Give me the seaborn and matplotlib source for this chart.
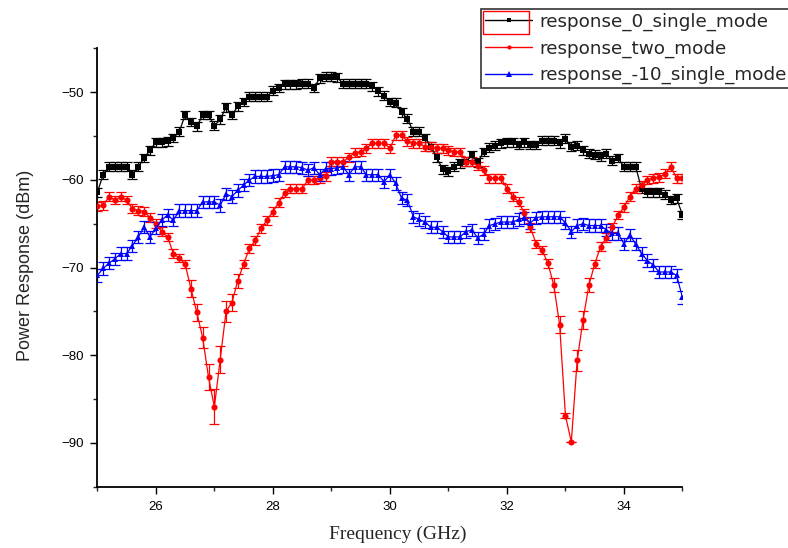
import numpy as np
import pandas as pd
import matplotlib
matplotlib.use("Agg")
import matplotlib.pyplot as plt
from matplotlib.lines import Line2D
from matplotlib.patches import Rectangle
from matplotlib.ticker import MultipleLocator
import seaborn as sns

# Frequency grid (GHz)
freq = np.round(np.arange(25.0, 35.05, 0.1), 1)

# Measured power response (dBm)
resp_0_single = [
    -61.4, -59.4, -58.5, -58.5, -58.5, -58.5, -59.4, -58.5, -57.5, -56.6,
    -55.7, -55.7, -55.6, -55.2, -54.5, -52.6, -53.4, -53.9, -52.6, -52.6,
    -53.8, -53.1, -51.7, -52.6, -51.6, -51.1, -50.5, -50.5, -50.5, -50.5,
    -49.8, -49.5, -49.1, -49.1, -49.1, -49.0, -49.0, -49.5, -48.4, -48.2,
    -48.2, -48.3, -49.0, -49.0, -49.0, -49.0, -49.0, -49.3, -49.9, -50.4,
    -51.1, -51.2, -52.3, -53.0, -54.5, -54.5, -55.2, -56.2, -57.4, -58.8,
    -59.0, -58.5, -58.1, -57.9, -57.2, -58.0, -56.8, -56.3, -56.1, -55.8,
    -55.7, -55.7, -56.0, -55.7, -56.0, -56.0, -55.5, -55.5, -55.5, -55.8,
    -55.3, -56.2, -56.1, -56.6, -57.0, -57.1, -57.3, -57.0, -57.8, -57.5,
    -58.5, -58.5, -58.5, -61.0, -61.4, -61.4, -61.4, -61.7, -62.3, -62.1,
    -64.0,
]
resp_two_mode = [
    -63.0, -62.9, -61.9, -62.3, -61.9, -62.3, -63.3, -63.5, -63.6, -64.3,
    -65.0, -65.9, -66.5, -68.4, -68.9, -69.6, -72.4, -75.1, -78.0, -82.5,
    -85.9, -80.5, -75.0, -74.0, -71.5, -69.6, -67.8, -66.9, -65.5, -64.6,
    -63.6, -62.6, -61.5, -61.0, -61.0, -61.0, -60.0, -60.0, -59.8, -59.6,
    -57.9, -57.9, -57.9, -57.4, -56.9, -56.8, -56.4, -55.8, -55.8, -55.8,
    -56.4, -54.9, -54.9, -55.6, -55.8, -55.8, -56.2, -56.2, -56.4, -56.4,
    -56.6, -56.8, -56.8, -57.9, -57.9, -58.4, -58.9, -59.8, -59.8, -59.8,
    -61.0, -61.9, -62.5, -63.8, -65.4, -67.3, -68.0, -69.5, -72.0, -76.5,
    -86.9, -89.9, -80.6, -76.0, -72.0, -69.6, -67.6, -66.6, -65.4, -64.0,
    -63.1, -61.9, -61.0, -60.6, -60.0, -59.8, -59.7, -59.3, -58.5, -59.8,
    -59.8,
]
resp_m10_single = [
    -70.9, -70.1, -69.5, -69.0, -68.4, -68.4, -67.5, -66.5, -65.4, -66.5,
    -65.5, -64.6, -64.0, -64.6, -63.5, -63.5, -63.5, -63.5, -62.5, -62.5,
    -62.5, -62.9, -61.6, -61.9, -61.2, -60.6, -60.0, -59.6, -59.6, -59.6,
    -59.5, -59.4, -58.5, -58.5, -58.5, -58.6, -58.9, -58.6, -59.4, -58.7,
    -58.7, -58.6, -58.5, -59.4, -58.5, -58.5, -59.4, -59.4, -59.4, -60.2,
    -59.4, -60.4, -62.1, -62.3, -64.2, -64.5, -64.8, -65.4, -65.4, -65.9,
    -66.5, -66.5, -66.5, -65.9, -65.7, -66.6, -66.2, -65.2, -65.0, -64.8,
    -64.8, -64.8, -64.5, -64.3, -64.9, -64.3, -64.2, -64.2, -64.2, -64.2,
    -64.9, -65.9, -65.2, -65.0, -65.2, -65.2, -65.2, -65.7, -66.1, -66.1,
    -67.3, -66.3, -67.3, -68.4, -69.2, -69.7, -70.5, -70.5, -70.5, -70.9,
    -73.4,
]

# Measurement uncertainty (dB)
err_0_single = 0.5
err_m10_single = 0.7
err_two_mode = (
    [0.5] * 16
    + [1.0, 1.0, 1.2, 1.5, 2.0, 1.5, 1.2, 1.0, 0.8]
    + [0.5] * 53
    + [0.8, 1.0, 0.3, 0.0, 1.2, 1.0, 0.8]
    + [0.5] * 16
)

labels = ["response_0_single_mode", "response_two_mode", "response_-10_single_mode"]
colors = {labels[0]: "#000000", labels[1]: "#ff0000", labels[2]: "#0000ff"}
markers = {labels[0]: "s", labels[1]: "o", labels[2]: "^"}
values = {labels[0]: resp_0_single, labels[1]: resp_two_mode, labels[2]: resp_m10_single}
errors = {labels[0]: err_0_single, labels[1]: err_two_mode, labels[2]: err_m10_single}

df = pd.concat(
    [pd.DataFrame({"freq": freq, "power": values[k], "series": k}) for k in labels],
    ignore_index=True,
)

sns.set_style("ticks")
plt.rcParams["font.family"] = ["Liberation Sans", "DejaVu Sans"]

fig = plt.figure(figsize=(7.88, 5.48), dpi=100)
ax = fig.add_axes([0.1235, 0.1119, 0.7426, 0.7996])

for k in labels:
    ax.errorbar(freq, values[k], yerr=errors[k], fmt="none", ecolor=colors[k],
                elinewidth=0.9, capsize=3.4, capthick=0.9, zorder=2)

sns.lineplot(data=df, x="freq", y="power", hue="series", style="series",
             hue_order=labels, style_order=labels, palette=colors, markers=markers,
             dashes=False, markersize=4.4, markeredgewidth=0, linewidth=0.9,
             errorbar=None, legend=False, ax=ax, zorder=3)

ax.set_xlim(25, 35)
ax.set_ylim(-95, -45)
ax.xaxis.set_minor_locator(MultipleLocator(1))
ax.yaxis.set_minor_locator(MultipleLocator(5))
ax.set_xticks([26, 28, 30, 32, 34])
ax.set_yticks([-50, -60, -70, -80, -90])

ax.tick_params(which="major", direction="out", length=5, width=1, pad=5,
               labelsize=9.5, colors="black")
ax.tick_params(which="minor", direction="out", length=3, width=1)
for side in ("top", "right"):
    ax.spines[side].set_visible(False)
for side in ("left", "bottom"):
    ax.spines[side].set_linewidth(1.3)
    ax.spines[side].set_color("black")

ax.set_xlabel("Frequency (GHz)", family=["Liberation Serif", "DejaVu Serif"], fontsize=14)
ax.xaxis.set_label_coords(0.514, -0.09)
ax.set_ylabel("Power Response (dBm)", fontsize=13)
ax.yaxis.set_label_coords(-0.108, 0.506)

handles = [
    Line2D([], [], color=colors[k], marker=markers[k], markersize=s, linewidth=1.0,
           markeredgewidth=0)
    for k, s in zip(labels, (3.5, 3.0, 5.0))
]
leg = fig.legend(handles, labels, loc="upper left",
                 bbox_to_anchor=(481 / 788, 1 - 9 / 548), borderaxespad=0,
                 frameon=True, fancybox=False, framealpha=1, edgecolor="#333333",
                 prop={"family": "DejaVu Sans", "size": 13.2}, handlelength=2.6,
                 handletextpad=0.4, labelspacing=0.46, borderpad=0.2, numpoints=1)
leg.get_frame().set_linewidth(1.2)

# selection box around the first legend handle
fig.add_artist(Rectangle((482.7 / 788, 1 - 33.7 / 548), 46.3 / 788, 22.7 / 548,
                         transform=fig.transFigure, fill=False, edgecolor="#ff0000",
                         linewidth=1.0, zorder=10))

fig.savefig("out.png", dpi=100)
